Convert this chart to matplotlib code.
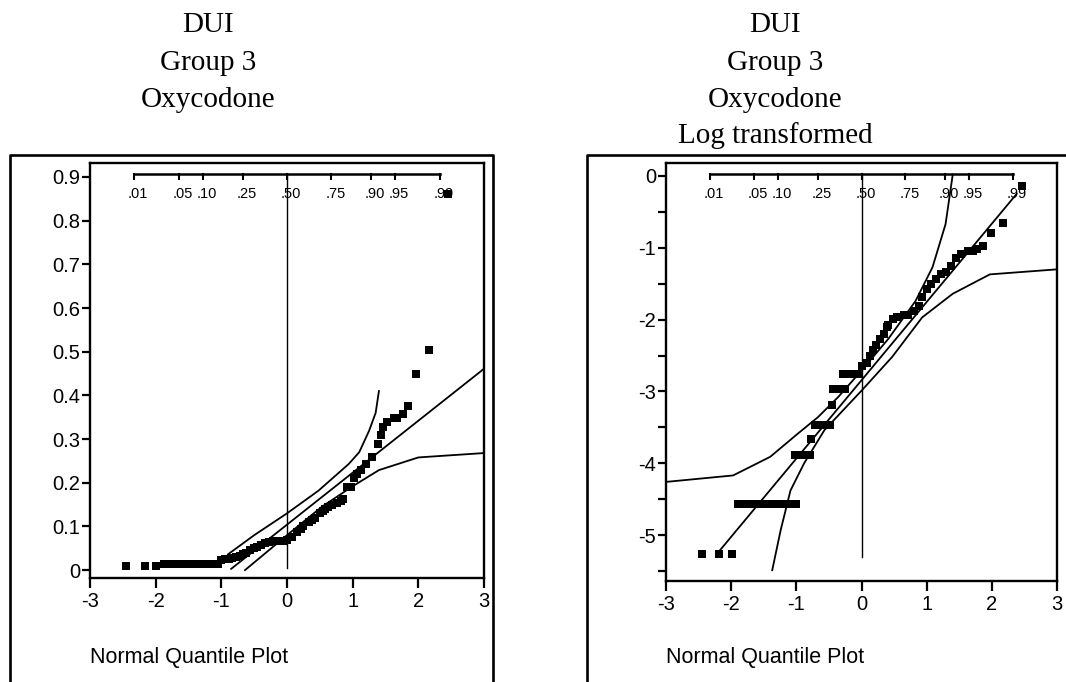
import matplotlib
matplotlib.use("Agg")
import matplotlib.pyplot as plt
import matplotlib.transforms as mtransforms
from matplotlib.lines import Line2D
from matplotlib.ticker import MultipleLocator

plt.rcParams['axes.unicode_minus'] = False
plt.rcParams['font.family'] = ['Liberation Sans', 'DejaVu Sans']

# ---- titles ----
left_title = ["DUI", "Group 3", "Oxycodone"]
right_title = ["DUI", "Group 3", "Oxycodone", "Log transformed"]

# ---- probability scale along the top (normal quantiles) ----
prob_labels = [".01", ".05", ".10", ".25", ".50", ".75", ".90", ".95", ".99"]
prob_pos = [-2.326, -1.645, -1.282, -0.674, 0.0, 0.674, 1.282, 1.645, 2.326]

# ---- left panel: raw oxycodone ----
raw_q = [-2.45, -2.16, -1.99,
         -1.88, -1.82, -1.76, -1.70, -1.64, -1.58, -1.52, -1.46, -1.40,
         -1.34, -1.28, -1.22, -1.16, -1.10, -1.05,
         -1.01, -0.95, -0.89, -0.84, -0.78, -0.72, -0.67, -0.62, -0.56,
         -0.50, -0.45, -0.40, -0.34, -0.28, -0.22, -0.16, -0.10, -0.05,
         0.00, 0.07, 0.15, 0.21, 0.25, 0.33, 0.38, 0.42, 0.50, 0.55,
         0.58, 0.63, 0.68, 0.76, 0.82, 0.86, 0.91, 0.98, 1.02, 1.07,
         1.12, 1.20, 1.30, 1.38, 1.43, 1.46, 1.53, 1.63, 1.68, 1.76,
         1.85, 1.97, 2.16, 2.45]
raw_val = [0.009, 0.009, 0.009,
           0.015, 0.015, 0.015, 0.015, 0.015, 0.015, 0.015, 0.015, 0.015,
           0.015, 0.015, 0.015, 0.015, 0.015, 0.015,
           0.024, 0.025, 0.026, 0.028, 0.030, 0.033, 0.036, 0.040, 0.045,
           0.050, 0.053, 0.058, 0.062, 0.065, 0.067, 0.067, 0.067, 0.067,
           0.068, 0.076, 0.087, 0.094, 0.100, 0.110, 0.115, 0.120, 0.130, 0.135,
           0.140, 0.144, 0.148, 0.153, 0.158, 0.163, 0.190, 0.190, 0.210, 0.220,
           0.230, 0.243, 0.258, 0.289, 0.310, 0.327, 0.340, 0.348, 0.348, 0.357,
           0.375, 0.450, 0.504, 0.860]
raw_fit_x = [-0.85, 3.0]
raw_fit_y = [0.003, 0.461]
raw_up_x = [-0.90, -0.5, 0.0, 0.48, 0.94, 1.10, 1.25, 1.35, 1.40]
raw_up_y = [0.036, 0.080, 0.130, 0.182, 0.243, 0.270, 0.319, 0.360, 0.410]
raw_lo_x = [-0.64, 0.0, 0.53, 1.0, 1.40, 2.0, 3.0]
raw_lo_y = [0.0, 0.080, 0.145, 0.192, 0.229, 0.258, 0.268]

# ---- right panel: log transformed ----
log_q = [-2.45, -2.18, -1.99,
         -1.90, -1.84, -1.78, -1.72, -1.66, -1.60, -1.54, -1.48, -1.42,
         -1.36, -1.30, -1.24, -1.18, -1.12, -1.06, -1.00,
         -1.02, -0.96, -0.90, -0.84, -0.79,
         -0.78,
         -0.72, -0.66, -0.60, -0.54, -0.48,
         -0.45,
         -0.44, -0.38, -0.32, -0.26,
         -0.28, -0.22, -0.16, -0.10, -0.04,
         0.00, 0.08, 0.13, 0.18, 0.23, 0.28, 0.34, 0.39, 0.41, 0.49,
         0.54, 0.65, 0.72, 0.80, 0.88, 0.93, 1.01, 1.06, 1.14, 1.22,
         1.29, 1.37, 1.45, 1.53, 1.63, 1.71, 1.78, 1.86, 1.99, 2.17, 2.46]
log_val = [-5.26, -5.26, -5.26,
           -4.57, -4.57, -4.57, -4.57, -4.57, -4.57, -4.57, -4.57, -4.57,
           -4.57, -4.57, -4.57, -4.57, -4.57, -4.57, -4.57,
           -3.88, -3.88, -3.88, -3.88, -3.88,
           -3.66,
           -3.47, -3.47, -3.47, -3.47, -3.47,
           -3.19,
           -2.96, -2.96, -2.96, -2.96,
           -2.76, -2.76, -2.76, -2.76, -2.76,
           -2.64, -2.60, -2.50, -2.43, -2.35, -2.27, -2.20, -2.10, -2.07, -1.99,
           -1.97, -1.94, -1.94, -1.88, -1.81, -1.69, -1.57, -1.50, -1.44, -1.37,
           -1.34, -1.25, -1.14, -1.08, -1.04, -1.04, -1.02, -0.97, -0.80, -0.66, -0.14]
log_fit_x = [-2.17, 2.38]
log_fit_y = [-5.21, -0.25]
log_up_x = [-3.0, -1.97, -1.40, -0.98, -0.67, -0.36, 0.0, 0.41, 0.83, 1.09, 1.29, 1.40]
log_up_y = [-4.26, -4.17, -3.91, -3.59, -3.36, -3.08, -2.71, -2.27, -1.74, -1.27, -0.67, 0.02]
log_lo_x = [-1.37, -1.24, -1.09, -0.88, -0.57, 0.0, 0.47, 0.93, 1.40, 1.97, 3.0]
log_lo_y = [-5.49, -4.93, -4.38, -4.00, -3.54, -2.99, -2.52, -1.97, -1.64, -1.37, -1.30]

W, H = 1066, 682
fig = plt.figure(figsize=(W / 100, H / 100), dpi=100)


def px_axes(x0, x1, y0, y1):
    # pixel box (top-left origin) -> figure fraction
    return fig.add_axes([x0 / W, 1 - y1 / H, (x1 - x0) / W, (y1 - y0) / H])


def frame_line(xs, ys, lw=1.9):
    fig.add_artist(Line2D([x / W for x in xs], [1 - y / H for y in ys],
                          transform=fig.transFigure, color="black", lw=lw,
                          solid_capstyle="projecting"))


def style_axes(ax, ylim, zero_top, zero_bottom, line_frac, label_frac):
    ax.set_xlim(-3, 3)
    ax.set_ylim(*ylim)
    for s in ax.spines.values():
        s.set_linewidth(1.7)
    ax.xaxis.set_major_locator(MultipleLocator(1))
    ax.tick_params(axis="x", length=7, width=1.6, labelsize=14.5, pad=3)
    ax.tick_params(axis="y", length=6, width=1.6, labelsize=14.5, pad=1)
    ax.tick_params(axis="y", which="minor", length=6, width=1.6)
    ax.plot([0, 0], [zero_bottom, zero_top], color="black", lw=1.0)

    # probability scale
    tr = mtransforms.blended_transform_factory(ax.transData, ax.transAxes)
    ax.plot([prob_pos[0], prob_pos[-1]], [line_frac, line_frac], color="black",
            lw=1.8, transform=tr, clip_on=False)
    for p in prob_pos:
        ax.plot([p, p], [line_frac, line_frac - 0.012], color="black", lw=1.5,
                transform=tr, clip_on=False)
    shift = mtransforms.ScaledTranslation(4 / 100, 0, fig.dpi_scale_trans)
    for p, lab in zip(prob_pos, prob_labels):
        ax.text(p, label_frac, lab, transform=tr + shift, ha="center", va="center",
                fontsize=10.5)


# left panel
axL = px_axes(90, 484, 163, 578)
style_axes(axL, (-0.018, 0.932), 0.907, 0.004, 0.9735, 0.926)
axL.yaxis.set_major_locator(MultipleLocator(0.1))
axL.yaxis.set_major_formatter(lambda v, pos: "0" if abs(v) < 1e-9 else f"{v:.1f}")
axL.plot(raw_fit_x, raw_fit_y, color="black", lw=1.3)
axL.plot(raw_up_x, raw_up_y, color="black", lw=1.3)
axL.plot(raw_lo_x, raw_lo_y, color="black", lw=1.3)
axL.plot(raw_q, raw_val, ls="none", marker="s", ms=5.5, mec="black", mew=0,
         color="black", clip_on=False)

# right panel
axR = px_axes(666, 1057, 163, 581)
style_axes(axR, (-5.64, 0.181), 0.028, -5.3, 0.9737, 0.926)
axR.yaxis.set_major_locator(MultipleLocator(1))
axR.yaxis.set_minor_locator(MultipleLocator(0.5))
axR.yaxis.set_major_formatter(lambda v, pos: f"{v:.0f}")
axR.plot(log_fit_x, log_fit_y, color="black", lw=1.3)
axR.plot(log_up_x, log_up_y, color="black", lw=1.3)
axR.plot(log_lo_x, log_lo_y, color="black", lw=1.3)
axR.plot(log_q, log_val, ls="none", marker="s", ms=5.5, mec="black", mew=0,
         color="black", clip_on=False)

# outer frames
frame_line([10, 10, 493, 493], [H + 5, 155, 155, H + 5])
frame_line([587, 587, W + 5], [H + 5, 155, 155])

# titles
title_rows = [25, 63, 100, 136]
for i, t in enumerate(left_title):
    fig.text(208 / W, 1 - title_rows[i] / H, t, ha="center", va="center",
             fontsize=21, family=["Liberation Serif", "DejaVu Serif"])
for i, t in enumerate(right_title):
    fig.text(775 / W, 1 - title_rows[i] / H, t, ha="center", va="center",
             fontsize=21, family=["Liberation Serif", "DejaVu Serif"])

for x0 in (90, 666):
    fig.text(x0 / W, 1 - 658 / H, "Normal Quantile Plot", ha="left", va="center",
             fontsize=15.5)

fig.savefig("out.png", dpi=100)
